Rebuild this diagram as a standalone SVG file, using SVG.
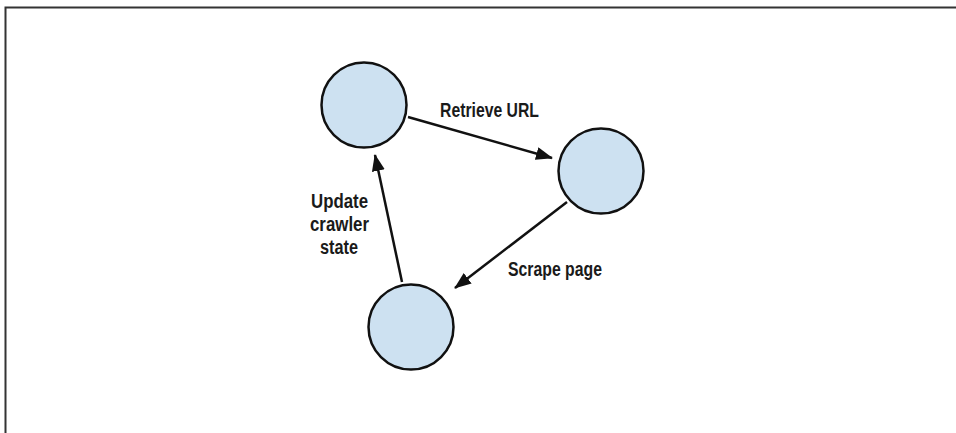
<svg xmlns="http://www.w3.org/2000/svg" width="956" height="433" viewBox="0 0 956 433">
<style>
.node{fill:#cde1f1;stroke:#111;stroke-width:2.5}
.edge{stroke:#111;stroke-width:2.5;fill:none;marker-end:url(#ah)}
.lbl{font-family:"Liberation Sans",Arial,sans-serif;font-weight:bold;font-size:20px;fill:#1a1a1a}
.frame{stroke:#333;stroke-width:2;fill:none}
</style>
<defs>
<marker id="ah" markerUnits="userSpaceOnUse" markerWidth="18" markerHeight="14" refX="16" refY="6.5" orient="auto">
<path d="M0,0 L17,6.5 L0,13 z" fill="#111"/>
</marker>
</defs>
<rect width="956" height="433" fill="#fff"/>
<path class="frame" d="M5.5,433 V7.5 H956"/>
<g id="connectors">
<line class="edge" x1="408" y1="117" x2="552" y2="158"/>
<line class="edge" x1="567" y1="202" x2="455" y2="288"/>
<line class="edge" x1="402" y1="282" x2="375" y2="155"/>
</g>
<g id="node-1"><circle class="node" cx="364" cy="105" r="42.5"/></g>
<g id="node-2"><circle class="node" cx="601" cy="171" r="42.5"/></g>
<g id="node-3"><circle class="node" cx="411" cy="327" r="42.5"/></g>
<g id="labels">
<text class="lbl" x="440" y="117" textLength="99" lengthAdjust="spacingAndGlyphs">Retrieve URL</text>
<text class="lbl" x="508" y="276" textLength="94" lengthAdjust="spacingAndGlyphs">Scrape page</text>
<text class="lbl" x="311" y="208" textLength="57" lengthAdjust="spacingAndGlyphs">Update</text>
<text class="lbl" x="310" y="231" textLength="59" lengthAdjust="spacingAndGlyphs">crawler</text>
<text class="lbl" x="320" y="254" textLength="38" lengthAdjust="spacingAndGlyphs">state</text>
</g>
</svg>
